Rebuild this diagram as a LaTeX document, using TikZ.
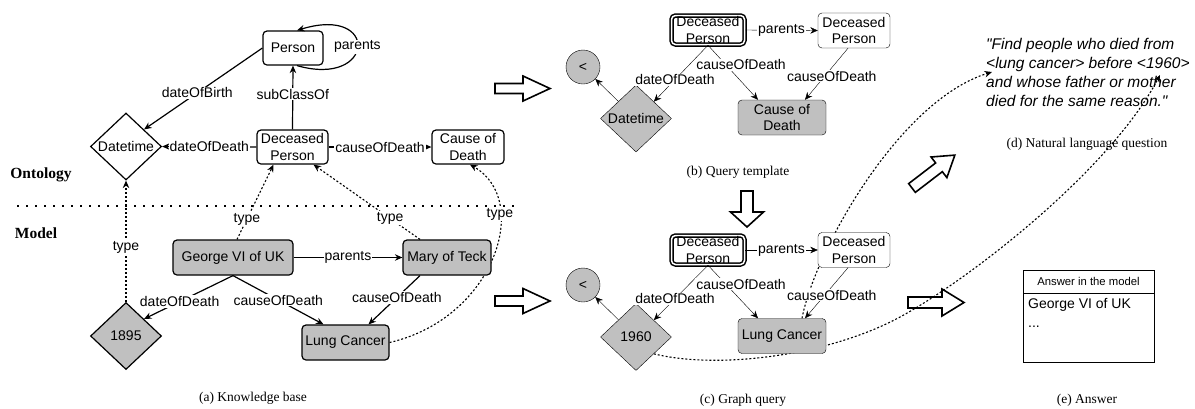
\documentclass[tikz,border=0pt]{standalone}
\usepackage{fontspec}
\setmainfont{Liberation Serif}
\setsansfont{Liberation Sans}
\usetikzlibrary{shapes.geometric,arrows.meta}
\pgfdeclarelayer{bg}
\pgfsetlayers{bg,main}
\definecolor{gfill}{RGB}{192,192,192}
\newcommand\nf{\sffamily\fontsize{14}{16.5}\selectfont}
\newcommand\smallnf{\sffamily\fontsize{11.3}{13}\selectfont}
\newcommand\capf{\rmfamily\fontsize{13.5}{16}\selectfont}
\newcommand\secf{\rmfamily\bfseries\fontsize{15.5}{18}\selectfont}
\newcommand\qf{\sffamily\itshape\fontsize{15.5}{19}\selectfont}
\newcommand\sq{\XeTeXglyph\XeTeXcharglyph"22\relax}
\begin{document}
\begin{tikzpicture}[x=1pt,y=-1pt,line width=1.2pt,
  >={Stealth[length=7.5pt,width=6.5pt]},
  ent/.style={draw,rounded corners=4pt,fill=white,align=center,font=\nf,inner sep=0pt},
  gry/.style={ent,fill=gfill},
  dbl/.style={ent,double,double distance=1.5pt,line width=1.5pt},
  diam/.style={diamond,draw,inner sep=0pt,minimum width=71pt,minimum height=67pt,label={[font=\nf]center:#1}},
  circ/.style={circle,draw,fill=gfill,minimum size=34pt,inner sep=0pt,font=\nf},
  lbl/.style={fill=white,inner sep=1pt,font=\nf},
  typ/.style={dash pattern=on 2pt off 2pt,line width=1.1pt},
  sepl/.style={dash pattern=on 1.5pt off 7.5pt,line width=1.6pt},
  blk/.style={draw,line width=1.6pt,line join=miter},
  capt/.style={font=\capf,inner sep=0pt},
  sect/.style={font=\secf,inner sep=0pt}]
\useasboundingbox (0,0) rectangle (1195,408);

% ---------------- (a) Knowledge base ----------------
\node[ent,minimum width=60,minimum height=34] (person) at (293,48) {Person};
\node[diam=Datetime] (dtA) at (126,146.5) {};
\node[ent,minimum width=71,minimum height=34] (dpA) at (292.5,147) {Deceased\\Person};
\node[ent,minimum width=72,minimum height=34] (codA) at (468,147) {Cause of\\Death};
\node[gry,minimum width=120,minimum height=35] (george) at (233,257.5) {George VI of UK};
\node[gry,minimum width=88,minimum height=35] (mary) at (447,257.5) {Mary of Teck};
\node[diam=1895,fill=gfill] (d1895) at (126,336) {};
\node[gry,minimum width=87,minimum height=35] (lcA) at (345.5,342.5) {Lung Cancer};
\node[sect] (onto) at (41,175) {Ontology};
\node[sect] (model) at (36,233) {Model};
\node[capt] (capa) at (253,398) {(a) Knowledge base};

\draw[->] (person.west) -- node[lbl,pos=0.55]{dateOfBirth} (dtA.north east);
\draw[->] (dpA.north) -- node[lbl,pos=0.55]{subClassOf} (person.south);
\draw[->] (dpA.west) -- node[lbl]{dateOfDeath} (dtA.east);
\draw[->] (dpA.east) -- node[lbl]{causeOfDeath} (codA.west);
\draw[->] ([xshift=4pt]person.south) .. controls (375,88) and (380,5) .. node[lbl]{parents} ([xshift=4pt]person.north);
\draw[->] (george.east) -- node[lbl]{parents} (mary.west);
\draw[->] (george.south) -- node[lbl,pos=0.6]{dateOfDeath} (d1895.north east);
\draw[->] (george.south) -- node[lbl,pos=0.5]{causeOfDeath} ([xshift=-22pt]lcA.north);
\draw[->] ([xshift=-27pt]mary.south) -- node[lbl,pos=0.45]{causeOfDeath} ([xshift=23pt]lcA.north);
\draw[sepl] (17,206) -- (515,206);
\begin{pgfonlayer}{bg}
\draw[typ,->] (d1895.north) -- node[lbl,pos=0.45]{type} (dtA.south);
\draw[typ,->] ([xshift=4pt]george.north) -- node[lbl,pos=0.27]{type} ([xshift=-19pt]dpA.south);
\draw[typ,->] ([xshift=-27pt]mary.north) -- node[lbl,pos=0.28]{type} ([xshift=21pt]dpA.south);
\draw[typ,->] (lcA.east) .. controls (495,318) and (532,200) .. node[lbl,pos=0.7]{type} ([xshift=2pt]codA.south);
\end{pgfonlayer}

% ---------------- block arrows ----------------
\draw[blk] (495,83.5) -- (523,83.5) -- (523,76) -- (550,88.5) -- (523,101) -- (523,93.5) -- (495,93.5) -- cycle;
\draw[blk] (495,296) -- (523,296) -- (523,288.5) -- (550,301) -- (523,313.5) -- (523,306) -- (495,306) -- cycle;
\draw[blk] (741,191) -- (753,191) -- (753,212) -- (763.5,212) -- (747,227) -- (730.5,212) -- (741,212) -- cycle;
\draw[blk] (908,297) -- (942,297) -- (942,289) -- (964,302.5) -- (942,316) -- (942,308) -- (908,308) -- cycle;
\draw[blk,shift={(912,188)},rotate=37.5] (0,-5.5) -- (34,-5.5) -- (34,-13) -- (54,0) -- (34,13) -- (34,5.5) -- (0,5.5) -- cycle;

% ---------------- (b) Query template ----------------
\node[circ] (ltB) at (583,67) {<};
\node[diam=Datetime,fill=gfill] (dtB) at (636,118.5) {};
\node[dbl,minimum width=73,minimum height=29] (dpdB) at (708,30) {Deceased\\Person};
\node[ent,minimum width=72,minimum height=35] (dp2B) at (854,30.5) {Deceased\\Person};
\node[gry,minimum width=88,minimum height=35] (codB) at (782,117.5) {Cause of\\Death};
\node[capt] (capb) at (738,172) {(b) Query template};
\draw[->] (dpdB.east) -- node[lbl]{parents} (dp2B.west);
\draw[->] (dpdB.south) -- node[lbl,pos=0.61]{dateOfDeath} (dtB.north east);
\draw[->] (dpdB.south) -- node[lbl,pos=0.36,xshift=15pt]{causeOfDeath} ([xshift=-24pt]codB.north);
\draw[->] ([xshift=-6pt]dp2B.south) -- node[lbl,pos=0.54,xshift=7pt]{causeOfDeath} ([xshift=23pt]codB.north);
\draw[->] (dtB) -- (ltB);

% ---------------- (c) Graph query ----------------
\node[circ] (ltC) at (583,285) {<};
\node[diam=1960,fill=gfill] (d1960) at (636,337) {};
\node[dbl,minimum width=73,minimum height=29] (dpdC) at (708,250) {Deceased\\Person};
\node[ent,minimum width=72,minimum height=35] (dp2C) at (854,250) {Deceased\\Person};
\node[gry,minimum width=88,minimum height=35] (lcC) at (782,336) {Lung Cancer};
\node[capt] (capc) at (743,400) {(c) Graph query};
\draw[->] (dpdC.east) -- node[lbl]{parents} (dp2C.west);
\draw[->] (dpdC.south) -- node[lbl,pos=0.61]{dateOfDeath} (d1960.north east);
\draw[->] (dpdC.south) -- node[lbl,pos=0.36,xshift=15pt]{causeOfDeath} ([xshift=-24pt]lcC.north);
\draw[->] ([xshift=-6pt]dp2C.south) -- node[lbl,pos=0.54,xshift=7pt]{causeOfDeath} ([xshift=23pt]lcC.north);
\draw[->] (d1960) -- (ltC);

% ---------------- (d) question ----------------
\node[anchor=north west,align=left,font=\qf,inner sep=0pt] (q) at (986,38)
  {\sq Find people who died from\\<lung cancer> before <1960>\\and whose father or mother\\died for the same reason.\sq};
\node[capt] (capd) at (1087,144) {(d) Natural language question};
\coordinate (qlung) at (992,72);
\coordinate (q1960) at (1160,75);
\coordinate (via) at (900,317);
\begin{pgfonlayer}{bg}
\draw[typ,->] (d1960.south east) .. controls (720,370) and (830,355) .. (via) .. controls (970,279) and (1110,170) .. (q1960);
\draw[typ,->] ([xshift=20pt]lcC.north) .. controls (815,250) and (900,100) .. (qlung);
\end{pgfonlayer}

% ---------------- (e) answer ----------------
\node[draw,minimum width=131,minimum height=92,inner sep=0pt] (ans) at (1088.5,316) {};
\node[draw,minimum width=131,minimum height=23,inner sep=0pt,anchor=north,font=\smallnf] (anshdr) at (ans.north) {Answer in the model};
\node[anchor=west,font=\nf,inner sep=0pt] (ansg) at (1028,305) {George VI of UK};
\node[anchor=west,font=\nf,inner sep=0pt] (ansd) at (1028,327) {...};
\node[capt] (cape) at (1087,400) {(e) Answer};
\end{tikzpicture}
\end{document}
